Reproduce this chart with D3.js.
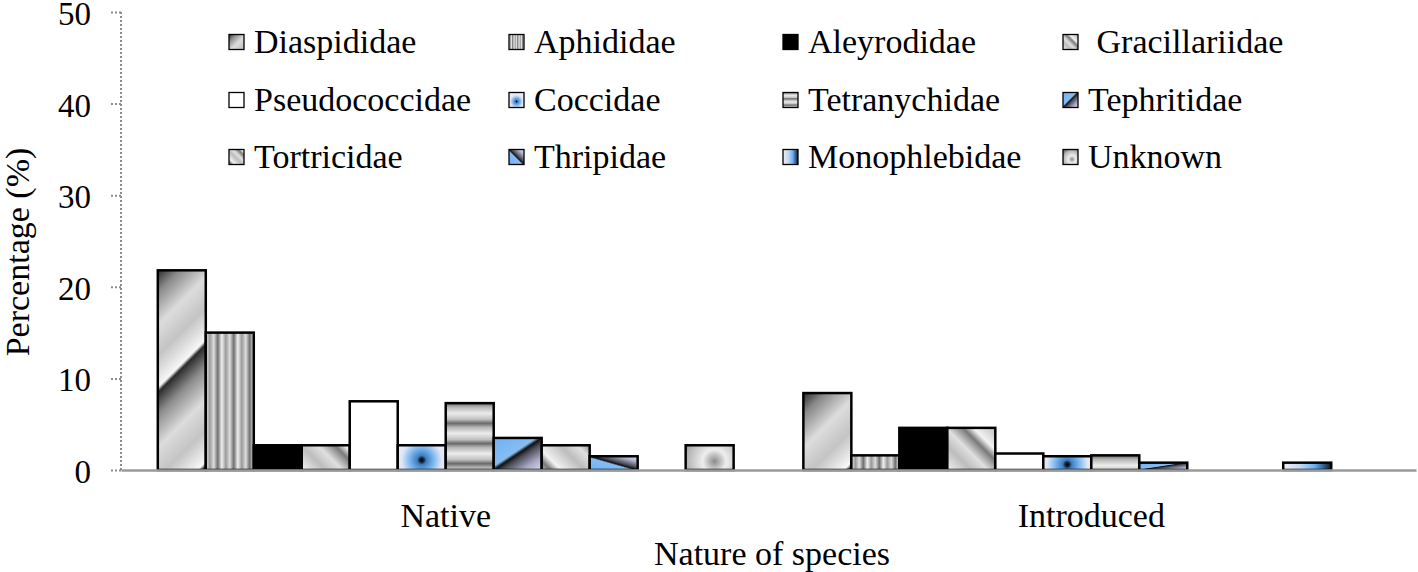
<!DOCTYPE html>
<html>
<head>
<meta charset="utf-8">
<script src="https://cdn.jsdelivr.net/npm/d3@7/dist/d3.min.js"></script>
<style>
  html, body { margin: 0; padding: 0; background: #fff; }
  svg { display: block; }
  text { font-family: "Liberation Serif", "Times New Roman", serif; fill: #000; }
</style>
</head>
<body>
<svg id="chart" width="1418" height="572"></svg>
<script>
// ---- data ----
const groups = ["Native", "Introduced"];
const families = ["Diaspididae", "Aphididae", "Aleyrodidae", "Gracillariidae",
  "Pseudococcidae", "Coccidae", "Tetranychidae", "Tephritidae",
  "Tortricidae", "Thripidae", "Monophlebidae", "Unknown"];
const legendLabels = ["Diaspididae", "Aphididae", "Aleyrodidae", " Gracillariidae",
  "Pseudococcidae", "Coccidae", "Tetranychidae", "Tephritidae",
  "Tortricidae", "Thripidae", "Monophlebidae", "Unknown"];
const nativeValues =     [21.8, 15.0, 2.7, 2.7, 7.5, 2.7, 7.3, 3.5, 2.7, 1.5, 0, 2.7];
const introducedValues = [8.4, 1.6, 4.6, 4.6, 1.8, 1.5, 1.6, 0.8, 0, 0, 0.8, 0];
const yTicks = [0, 10, 20, 30, 40, 50];
const fillTypes = ["diag1", "vstripe", "black", "diag2", "white", "radialBlue",
  "hstripe", "tephri", "diag2b", "thrip", "mono", "unknown"];

// ---- setup ----
const svg = d3.select("#chart");
const defs = svg.append("defs");
const y = d3.scaleLinear().domain([0, 50]).range([470, 12]);
const x0 = d3.scaleBand().domain(groups).range([121, 1416]).paddingInner(0.108).paddingOuter(0.057);
const x1 = d3.scaleBand().domain(families).range([0, x0.bandwidth()]).padding(0);

let gid = 0;
function linGrad(x1c, y1c, x2c, y2c, stops, repeat) {
  const id = "g" + (gid++);
  const g = defs.append("linearGradient").attr("id", id)
    .attr("gradientUnits", "userSpaceOnUse")
    .attr("x1", x1c).attr("y1", y1c).attr("x2", x2c).attr("y2", y2c);
  if (repeat) g.attr("spreadMethod", "repeat");
  stops.forEach(s => g.append("stop").attr("offset", s[0]).attr("stop-color", s[1]));
  return "url(#" + id + ")";
}
function radGrad(cx, cy, r, stops) {
  const id = "g" + (gid++);
  const g = defs.append("radialGradient").attr("id", id)
    .attr("gradientUnits", "userSpaceOnUse")
    .attr("cx", cx).attr("cy", cy).attr("r", r);
  stops.forEach(s => g.append("stop").attr("offset", s[0]).attr("stop-color", s[1]));
  return "url(#" + id + ")";
}
function makeFill(type, x, yy, w, h) {
  const s2 = Math.SQRT2;
  if (type === "black") return "#000";
  if (type === "white") return "#fff";
  if (type === "diag1") {
    const P = 1.8 * w;
    return linGrad(x, yy, x + P / s2, yy + P / s2,
      [[0, "#2b2b2b"], [0.18, "#8a8a8a"], [0.45, "#dcdcdc"], [0.7, "#c4c4c4"], [0.96, "#f7f7f7"], [1, "#2b2b2b"]], true);
  }
  if (type === "diag2" || type === "diag2b") {
    const P = 1.0 * w;
    const ox = type === "diag2" ? 0 : w * 0.4;
    return linGrad(x + ox, yy + h, x + ox + P / s2, yy + h - P / s2,
      [[0, "#f2f2f2"], [0.35, "#bdbdbd"], [0.6, "#e0e0e0"], [0.85, "#7a7a7a"], [1, "#f2f2f2"]], true);
  }
  if (type === "vstripe") {
    const P = w / 3;
    return linGrad(x, 0, x + P, 0,
      [[0, "#efefef"], [0.25, "#9a9a9a"], [0.5, "#dedede"], [0.75, "#6f6f6f"], [1, "#efefef"]], true);
  }
  if (type === "hstripe") {
    const P = w * 0.42;
    return linGrad(0, yy, 0, yy + P,
      [[0, "#6a6a6a"], [0.2, "#b5b5b5"], [0.5, "#ececec"], [0.8, "#c2c2c2"], [1, "#6a6a6a"]], true);
  }
  if (type === "radialBlue") {
    const r = Math.max(w, h) * 0.6;
    return radGrad(x + w / 2, yy + h / 2 + h * 0.1, r,
      [[0, "#000"], [0.08, "#1a2a3a"], [0.16, "#3d7fc4"], [0.45, "#86bdf0"], [0.7, "#dfe6f7"], [1, "#f6e9f6"]]);
  }
  if (type === "tephri") {
    const L = Math.sqrt(w * w + h * h);
    const d = (w * h) / L;
    const ux = h / L, uy = w / L;
    return linGrad(x, yy, x + 2 * d * ux, yy + 2 * d * uy,
      [[0, "#6fb1f4"], [0.44, "#86bdf2"], [0.5, "#111"], [0.58, "#4a4a55"], [0.8, "#a9a9c4"], [1, "#dcdcef"]]);
  }
  if (type === "thrip") {
    const L = Math.sqrt(w * w + h * h);
    const d = (w * h) / L;
    const ux = h / L, uy = -w / L;
    return linGrad(x, yy + h, x + 2 * d * ux, yy + h + 2 * d * uy,
      [[0, "#6fb1f4"], [0.44, "#86bdf2"], [0.5, "#111"], [0.58, "#4a4a55"], [0.8, "#b3b3cc"], [1, "#e2e2f2"]]);
  }
  if (type === "mono") {
    return linGrad(x, 0, x + w, 0,
      [[0, "#f4ecf6"], [0.35, "#c3daf4"], [0.65, "#6fb0ef"], [0.85, "#2c5d8c"], [1, "#0b1620"]]);
  }
  if (type === "unknown") {
    return radGrad(x + w * 0.6, yy + h * 0.65, Math.max(w, h) * 0.7,
      [[0, "#8a8a8a"], [0.15, "#b5b5b5"], [0.35, "#eeeeee"], [0.6, "#cfcfcf"], [0.85, "#b0b0b0"], [1, "#7a7a7a"]]);
  }
  return "#ccc";
}

// ---- axes ----
const yAxisG = svg.append("g").attr("transform", "translate(121,0)")
  .call(d3.axisLeft(y).tickValues(yTicks).tickSize(11).tickPadding(19).tickFormat(d3.format("d")));
yAxisG.select(".domain").attr("stroke", "#8c8c8c").attr("stroke-width", 2).attr("stroke-dasharray", "2,2")
  .attr("d", "M0," + y(50) + "V" + y(0));
yAxisG.selectAll(".tick line").attr("stroke", "#8c8c8c").attr("stroke-width", 2).attr("stroke-dasharray", "2,2");
yAxisG.selectAll(".tick text").style("font-family", '"Liberation Serif", serif').style("font-size", "33px").attr("fill", "#000")
  .attr("dy", "0.38em");

// bars
const series = [nativeValues, introducedValues];
groups.forEach((gname, gi) => {
  const gx = x0(gname);
  const barData = families.map((f, i) => ({ f, i, v: series[gi][i] })).filter(d => d.v > 0);
  svg.append("g").selectAll("rect").data(barData).enter().append("rect")
    .attr("x", d => gx + x1(d.f))
    .attr("y", d => y(d.v))
    .attr("width", x1.bandwidth())
    .attr("height", d => y(0) - y(d.v))
    .attr("fill", d => makeFill(fillTypes[d.i], gx + x1(d.f), y(d.v), x1.bandwidth(), y(0) - y(d.v)))
    .attr("stroke", "#000").attr("stroke-width", 2.5);
});

// x axis
const xAxisG = svg.append("g").attr("transform", "translate(0," + y(0) + ")")
  .call(d3.axisBottom(x0).tickSize(0).tickPadding(50));
xAxisG.select(".domain").attr("stroke", "#9a9a9a").attr("stroke-width", 2.5);
xAxisG.selectAll(".tick text").style("font-family", '"Liberation Serif", serif').style("font-size", "34px").attr("fill", "#000")
  .attr("dy", "0.2em");

// axis titles
svg.append("text").attr("x", 772).attr("y", 565).attr("text-anchor", "middle")
  .style("font-size", "34px").text("Nature of species");
svg.append("text").attr("transform", "translate(29,252) rotate(-90)").attr("text-anchor", "middle")
  .style("font-size", "34px").text("Percentage (%)");

// legend
const colX = [229, 509, 783, 1063];
const rowY = [42, 100, 157];
const sw = 15;
const leg = svg.append("g");
legendLabels.forEach((lab, i) => {
  const cx = colX[i % 4], cy = rowY[Math.floor(i / 4)];
  const sx = cx, sy = cy - sw / 2;
  leg.append("rect").attr("x", sx).attr("y", sy).attr("width", sw).attr("height", sw)
    .attr("fill", makeFill(fillTypes[i], sx, sy, sw, sw))
    .attr("stroke", "#000").attr("stroke-width", 1.3);
  leg.append("text").attr("x", sx + 25).attr("y", cy + 11)
    .style("font-size", "34px").style("white-space", "pre").attr("xml:space", "preserve").text(lab);
});
</script>
</body>
</html>
